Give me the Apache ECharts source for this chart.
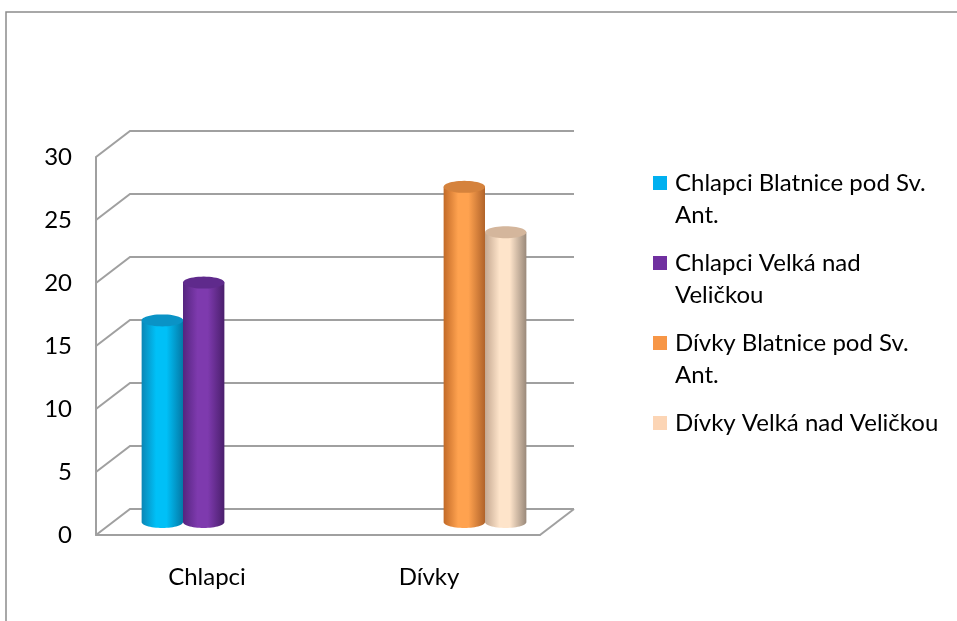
<!DOCTYPE html>
<html>
<head>
<meta charset="utf-8">
<script src="https://cdn.jsdelivr.net/npm/echarts@6/dist/echarts.min.js"></script>
<style>html,body{margin:0;padding:0;background:#fff}#c{width:957px;height:621px}</style>
</head>
<body>
<div id="c"></div>
<script>
// ---- data ----
const categories = ['Chlapci', 'Dívky'];
const seriesNames = ['Chlapci Blatnice pod Sv. Ant.', 'Chlapci Velká nad Veličkou', 'Dívky Blatnice pod Sv. Ant.', 'Dívky Velká nad Veličkou'];
const legendLabels = ['\nChlapci Blatnice pod Sv.\nAnt.', '\nChlapci Velká nad\nVeličkou', '\nDívky Blatnice pod Sv.\nAnt.', 'Dívky Velká nad Veličkou'];
const chlapciBlatnice = [16, null];
const chlapciVelka = [19, null];
const divkyBlatnice = [null, 26.6];
const divkyVelka = [null, 23];
const yTicks = [0, 5, 10, 15, 20, 25, 30];

// ---- styles ----
const FONT = 'Lato';
const FS = 24;
const LINE = '#a0a0a0';
const DX = 34, DY = -26;
const legendColors = ['#00B0F0', '#7030A0', '#F79646', '#FCD5B5'];
const cyl = [
  {edgeL: '#0a86b5', light: '#00c0f7', edgeR: '#0479a6', top: '#0a93c6'},
  {edgeL: '#55257f', light: '#7e3aae', edgeR: '#4a1f6c', top: '#5f2a8c'},
  {edgeL: '#c26a27', light: '#ffa24f', edgeR: '#b0632a', top: '#d5823c'},
  {edgeL: '#c4a891', light: '#fee4ca', edgeR: '#9a897a', top: '#d4b69c'}
];
const valuesList = [chlapciBlatnice, chlapciVelka, divkyBlatnice, divkyVelka];

function ellipsePts(cx, cy, rx, ry, a0, a1, n) {
  const pts = [];
  for (let i = 0; i <= n; i++) {
    const t = a0 + (a1 - a0) * i / n;
    pts.push([cx + rx * Math.cos(t), cy + ry * Math.sin(t)]);
  }
  return pts;
}

function frameItem(params, api) {
  const v = api.value(1);
  const y = api.coord([0, v])[1];
  const cs = params.coordSys;
  const L = cs.x, R = cs.x + cs.width;
  const children = [{
    type: 'polyline',
    shape: {points: [[L, y], [L + DX, y + DY], [R + DX, y + DY]]},
    style: {stroke: LINE, lineWidth: 2, fill: null}
  }];
  if (v === 0) {
    children.push({
      type: 'line',
      shape: {x1: R, y1: y, x2: R + DX, y2: y + DY},
      style: {stroke: LINE, lineWidth: 2}
    });
  }
  return {type: 'group', children};
}

function makeCylRender(si) {
  return function (params, api) {
    const ci = api.value(0), v = api.value(1);
    if (isNaN(v)) return null;
    const band = api.size([1, 0])[0];
    const bw = band * 0.137;
    const rx = bw / 2, ry = 6;
    const top = api.coord([ci, v]);
    const base = api.coord([ci, 0]);
    const cx = top[0] + (si % 2 === 0 ? -1 : 1) * rx;
    const c = cyl[si];
    const body = [[cx - rx, top[1]], [cx + rx, top[1]]]
      .concat(ellipsePts(cx, base[1], rx, ry, 0, Math.PI, 30));
    const grad = {
      type: 'linear', x: 0, y: 0, x2: 1, y2: 0,
      colorStops: [
        {offset: 0, color: c.edgeL},
        {offset: 0.35, color: c.light},
        {offset: 0.6, color: c.light},
        {offset: 1, color: c.edgeR}
      ]
    };
    return {
      type: 'group',
      children: [
        {type: 'polygon', shape: {points: body}, style: {fill: grad}},
        {type: 'polygon', shape: {points: ellipsePts(cx, top[1], rx, ry, 0, Math.PI * 2, 48)}, style: {fill: c.top}}
      ]
    };
  };
}

const series = [{
  type: 'custom',
  name: '__frame',
  xAxisIndex: 0, yAxisIndex: 0,
  z: 1,
  silent: true,
  renderItem: frameItem,
  data: yTicks.map(t => [0, t]),
  encode: {x: 0, y: 1}
}];
seriesNames.forEach((name, si) => {
  series.push({
    type: 'custom',
    name: name,
    xAxisIndex: 1, yAxisIndex: 1,
    z: 3,
    itemStyle: {color: legendColors[si]},
    renderItem: makeCylRender(si),
    data: valuesList[si].map((v, i) => [i, v == null ? '-' : v]),
    encode: {x: 0, y: 1}
  });
});

const chart = echarts.init(document.getElementById('c'));
chart.setOption({
  animation: false,
  backgroundColor: '#fff',
  textStyle: {fontFamily: FONT},
  graphic: [{
    type: 'rect', silent: true, z: -10,
    shape: {x: 6, y: 12, width: 1000, height: 700},
    style: {fill: null, stroke: '#8c8c8c', lineWidth: 1.5}
  }],
  grid: [
    {left: 96, top: 157, width: 444, height: 378},
    {left: 32, top: 144, width: 604, height: 378}
  ],
  xAxis: [
    {
      gridIndex: 0, type: 'category', data: categories,
      axisLine: {show: true, lineStyle: {color: LINE, width: 2}},
      axisTick: {show: false},
      axisLabel: {color: '#000', fontSize: FS, fontFamily: FONT, margin: 30},
      splitLine: {show: false}
    },
    {gridIndex: 1, type: 'category', data: categories, show: false}
  ],
  yAxis: [
    {
      gridIndex: 0, type: 'value', min: 0, max: 30, interval: 5,
      axisLine: {show: true, lineStyle: {color: LINE, width: 2}},
      axisTick: {show: false},
      axisLabel: {color: '#000', fontSize: FS, fontFamily: FONT, margin: 24},
      splitLine: {show: false}
    },
    {gridIndex: 1, type: 'value', min: 0, max: 30, interval: 5, show: false}
  ],
  legend: {
    orient: 'vertical',
    left: 648, top: 130,
    itemWidth: 14, itemHeight: 14,
    itemGap: -16,
    icon: 'rect',
    data: seriesNames.map((n, i) => ({
      name: n,
      textStyle: {padding: i === 3 ? [32, 0, 32, 3] : [0, 0, 0, 3]}
    })),
    formatter: name => legendLabels[seriesNames.indexOf(name)],
    textStyle: {color: '#000', fontSize: FS, fontFamily: FONT, lineHeight: 32}
  },
  series: series
});
</script>
</body>
</html>
